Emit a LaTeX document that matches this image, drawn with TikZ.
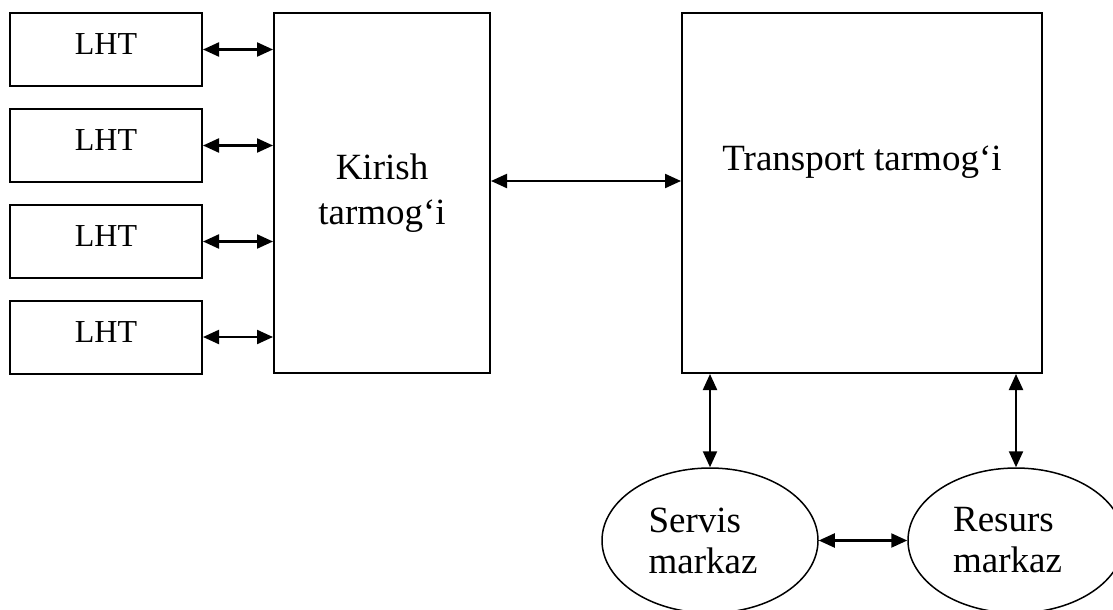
\documentclass[tikz,border=0pt]{standalone}
\usepackage{fontspec}
\setmainfont{Liberation Serif}
\usetikzlibrary{arrows.meta,shapes.geometric}
\begin{document}
\begin{tikzpicture}[x=1pt,y=-1pt,
 box/.style={draw,line width=2pt,inner sep=0pt},
 lht/.style={box,minimum width=192pt,minimum height=73pt,font=\fontsize{32}{38}\selectfont,text depth=10pt},
 arr/.style={line width=2.2pt,{Triangle[length=16pt,width=14pt]}-{Triangle[length=16pt,width=14pt]}},
 big/.style={font=\fontsize{37}{45}\selectfont},
 oval/.style={draw,ellipse,line width=1.5pt,minimum width=216pt,minimum height=145pt,inner sep=0pt,align=left,font=\fontsize{37}{41}\selectfont}]
\useasboundingbox (0,0) rectangle (1113,610);
\node[lht] (l1) at (106,49.5) {LHT};
\node[lht] (l2) at (106,145.5) {LHT};
\node[lht] (l3) at (106,241.5) {LHT};
\node[lht] (l4) at (106,337) {LHT};
\node[box,minimum width=216pt,minimum height=360pt,big,align=center] (kir) at (382,193) {Kirish\\tarmog‘i};
\node[box,minimum width=360pt,minimum height=360pt] (tr) at (862,193) {};
\node[big,anchor=base] (trt) at (862,170) {Transport tarmog‘i};
\node[oval] (srv) at (710,540.5) {Servis\\markaz\hspace*{14pt}};
\node[oval] (res) at (1016,540.5) {Resurs\\markaz\hspace*{17pt}};
\foreach \i in {1,2,3,4} {
  \draw[arr] (l\i.east) -- (l\i.east -| kir.west);
}
\draw[arr] ([yshift=12pt]kir.east) -- ([yshift=12pt]kir.east -| tr.west);
\draw[arr] (tr.south -| srv.north) -- (srv.north);
\draw[arr] (tr.south -| res.north) -- (res.north);
\draw[arr] (srv.east) -- (res.west);
\end{tikzpicture}
\end{document}
